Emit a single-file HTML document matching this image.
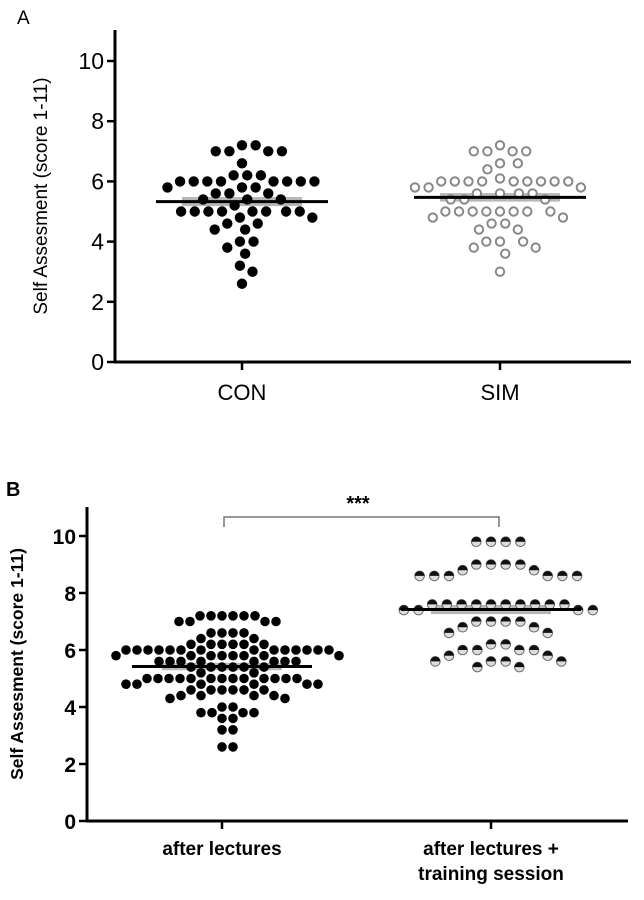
<!DOCTYPE html>
<html><head><meta charset="utf-8"><style>
html,body{margin:0;padding:0;background:#fff;}
svg{display:block;font-family:"Liberation Sans",Arial,sans-serif;}
</style></head><body>
<svg id="fig" width="644" height="900" viewBox="0 0 644 900">
<g id="pa"></g>
<g id="pb"></g>
</svg>
<script>
const ticksY = [0,2,4,6,8,10];
const catsA = ["CON","SIM"];
const conVals = [7.2,7.2,7,7,7,7,6.6,6.2,6.2,6.2,6,6,6,6,6,6,6,6,5.8,5.8,5.8,5.6,5.6,5.6,5.4,5.4,5.4,5.2,5,5,5,5,5,5,5,5,4.8,4.8,4.6,4.6,4.4,4.4,4,4,3.8,3.6,3.2,3,2.6];
const simVals = [7.2,7,7,7,7,6.6,6.6,6.4,6.1,6,6,6,6,6,6,6,6,6,5.8,5.8,5.8,5.6,5.6,5.6,5.6,5.4,5.4,5.4,5,5,5,5,5,5,5,5,4.8,4.8,4.6,4.6,4.4,4.4,4,4,4,3.8,3.8,3.6,3];
const meansA = [5.33,5.47];
const semA = [0.15,0.14];
const catsB = ["after lectures","after lectures +|training session"];
const lecVals = [7.2,7.2,7.2,7.2,7.2,7.2,7,7,7,7,6.6,6.6,6.6,6.6,6.4,6.4,6.2,6.2,6.2,6.2,6.2,6.2,6,6,6,6,6,6,6,6,6,6,6,6,6,6,5.8,5.8,5.8,5.8,5.8,5.8,5.8,5.8,5.6,5.6,5.6,5.6,5.6,5.6,5.6,5.6,5.4,5.4,5.4,5.4,5.4,5.4,5.2,5.2,5,5,5,5,5,5,5,5,5,5,5,5,5,4.8,4.8,4.8,4.8,4.8,4.8,4.6,4.6,4.6,4.6,4.6,4.6,4.4,4.4,4.4,4.4,4.3,4.3,4,4,3.8,3.8,3.8,3.8,3.6,3.6,3.2,3.2,2.6,2.6];
const trainVals = [9.8,9.8,9.8,9.8,9,9,9,9,8.8,8.8,8.6,8.6,8.6,8.6,8.6,8.6,7.6,7.6,7.6,7.6,7.6,7.6,7.6,7.6,7.6,7.6,7.4,7.4,7.4,7.4,7,7,7,7,6.8,6.8,6.6,6.6,6.2,6.2,6,6,6,6,5.8,5.8,5.6,5.6,5.6,5.6,5.4,5.4];
const meansB = [5.42,7.42];
const semB = [0.13,0.16];

const NS="http://www.w3.org/2000/svg";
function mk(parent,tag,attrs,name,text){
  const e=document.createElementNS(NS,tag);
  for(const k in attrs) e.setAttribute(k,attrs[k]);
  
  
  if(text!==undefined) e.textContent=text;
  parent.appendChild(e); return e;
}
function swarm(ys,d){
  const order=ys.map((y,i)=>i).sort((a,b)=>ys[a]-ys[b]);
  const placed=[];const out=new Array(ys.length);
  order.forEach(i=>{
    const y=ys[i];
    let best=null;
    for(let s=0;s<400;s+=1){
      for(const sg of (s===0?[1]:[1,-1])){
        const x=s*sg;
        if(placed.every(p=>(p[0]-x)**2+(p[1]-y)**2>=d*d-0.01)){best=x;break;}
      }
      if(best!==null)break;
    }
    out[i]=best;placed.push([best,y]);
  });
  return out;
}

function panel(g,cfg){
  const y=v=>cfg.y0-v*cfg.ppu;
  mk(g,'line',{x1:cfg.ax,y1:cfg.top,x2:cfg.ax,y2:cfg.y0+1,stroke:'#000','stroke-width':3},'y-axis');
  mk(g,'line',{x1:cfg.ax-1,y1:cfg.y0,x2:cfg.xend,y2:cfg.y0,stroke:'#000','stroke-width':3},'x-axis');
  ticksY.forEach(t=>{
    mk(g,'line',{x1:cfg.ax-8,y1:y(t),x2:cfg.ax,y2:y(t),stroke:'#000','stroke-width':2.5},'y-tick');
    mk(g,'text',{x:cfg.ax-11,y:y(t)+8,'text-anchor':'end','font-size':cfg.tfs,'font-weight':cfg.bold?'bold':'normal'},'y-tick-label',String(t));
  });
  mk(g,'text',{transform:`translate(${cfg.titleX},${(cfg.top+cfg.y0)/2}) rotate(-90)`,'text-anchor':'middle','font-size':cfg.titleFs,'font-weight':cfg.bold?'bold':'normal'},'y-axis-title','Self Assesment (score 1-11)');
  cfg.cats.forEach((c,i)=>{
    const cx=cfg.cx[i];
    mk(g,'line',{x1:cx,y1:cfg.y0,x2:cx,y2:cfg.y0+8,stroke:'#000','stroke-width':2.5},'x-tick');
    c.split('|').forEach((ln,j)=>{
      mk(g,'text',{x:cx,y:cfg.labY+j*cfg.labDy,'text-anchor':'middle','font-size':cfg.lfs,'font-weight':cfg.bold?'bold':'normal'},'x-tick-label',ln);
    });
  });
  cfg.series.forEach((vals,i)=>{
    const cx=cfg.cx[i];
    const sg=mk(g,'g',{},'series-'+(i+1));
    mk(sg,'rect',{x:cx-cfg.semW,y:y(cfg.means[i]+cfg.sems[i]),width:cfg.semW*2,height:cfg.sems[i]*2*cfg.ppu,fill:'#999',opacity:0.7},'sem-band');
    const ys=vals.map(y);
    const xs=swarm(ys,cfg.sp[i]);
    vals.forEach((v,k)=>{
      const x=cx+xs[k]*cfg.xs[i], yy=ys[k];
      const st=cfg.style[i];
      if(st==='filled') mk(sg,'circle',{cx:x,cy:yy,r:cfg.r,fill:'#000'},'point');
      else if(st==='open') mk(sg,'circle',{cx:x,cy:yy,r:cfg.r-1,fill:'#fff',stroke:'#888','stroke-width':2},'point');
      else {
        mk(sg,'circle',{cx:x,cy:yy,r:cfg.r,fill:'#ddd',stroke:'#666','stroke-width':1},'point');
        mk(sg,'path',{d:`M${x-cfg.r},${yy} A${cfg.r},${cfg.r} 0 0 1 ${x+cfg.r},${yy} Z`,fill:'#111'},'point-top');
      }
    });
    mk(sg,'line',{x1:cx-cfg.meanW,y1:y(cfg.means[i]),x2:cx+cfg.meanW,y2:y(cfg.means[i]),stroke:'#000','stroke-width':3},'mean-line');
  });
}

const pa=document.getElementById('pa');
mk(pa,'text',{x:17,y:24,'font-size':19},'panel-label-a','A');
panel(pa,{ax:115,top:30,y0:362,ppu:30.1,xend:631,tfs:23,titleX:47,titleFs:19,bold:false,
  cats:catsA,cx:[242,500],labY:400,labDy:0,lfs:22,series:[conVals,simVals],means:meansA,sems:semA,
  sp:[13,13],xs:[1.05,1.05],r:5.2,style:['filled','open'],semW:60,meanW:86});

const pb=document.getElementById('pb');
mk(pb,'text',{x:6,y:496,'font-size':20,'font-weight':'bold'},'panel-label-b','B');
panel(pb,{ax:87,top:507,y0:821,ppu:28.5,xend:628,tfs:21,titleX:23,titleFs:17.5,bold:true,
  cats:catsB,cx:[222,491],labY:855,labDy:25,lfs:19,series:[lecVals,trainVals],means:meansB,sems:semB,
  sp:[11,14],xs:[1,1.05],r:4.8,style:['filled','half'],semW:60,meanW:90});
mk(pb,'path',{d:'M224,527 L224,517 L499,517 L499,527',fill:'none',stroke:'#777','stroke-width':1.5},'significance-bracket');
mk(pb,'text',{x:358,y:510,'text-anchor':'middle','font-size':20,'font-weight':'bold'},'significance-stars','***');
</script>
</body></html>
